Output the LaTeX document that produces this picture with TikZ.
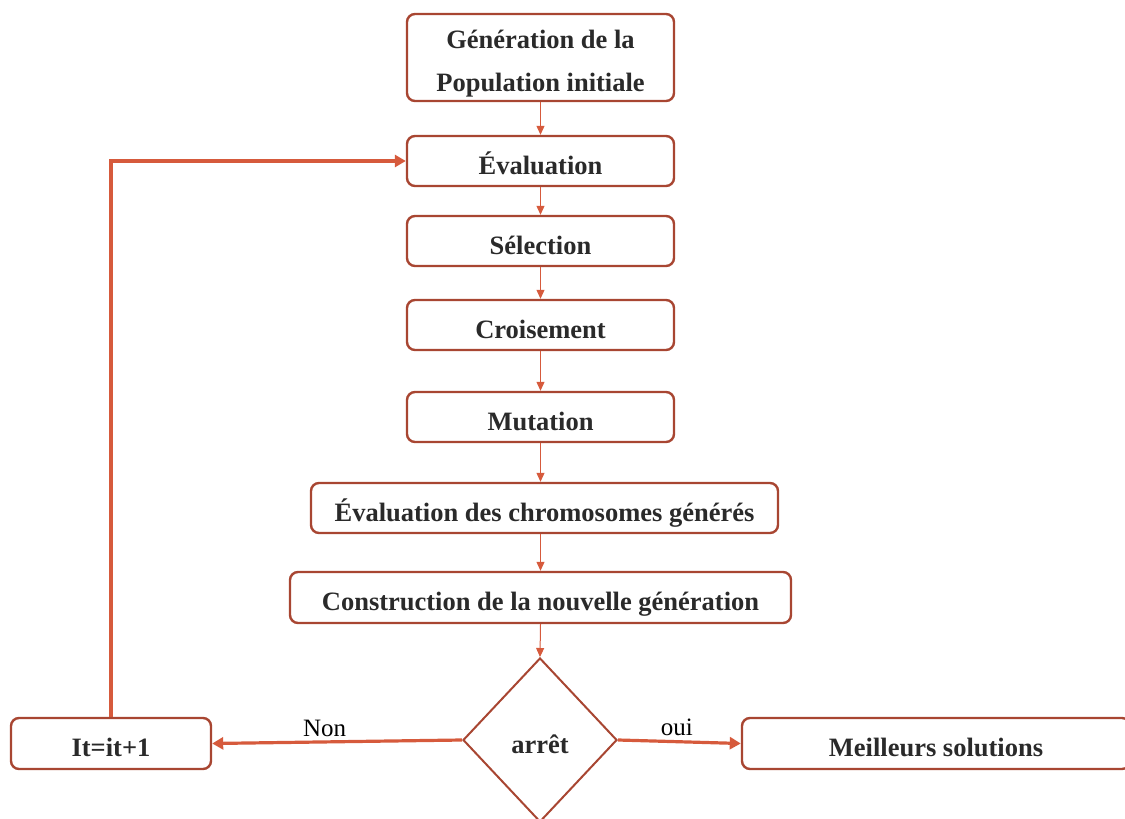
\documentclass[tikz,border=0pt]{standalone}
\usepackage{fontspec}
\setmainfont{Liberation Serif}
\usetikzlibrary{shapes.geometric,arrows.meta}
\definecolor{boxc}{HTML}{A84632}
\definecolor{arrc}{HTML}{D65A3C}
\definecolor{txtc}{HTML}{2A2A2A}
\tikzset{
  stepbox/.style={draw=boxc, line width=2.4pt, rounded corners=8pt, fill=white,
    text=txtc, font=\fontsize{26.5}{43}\selectfont\bfseries, align=center, inner sep=0pt,
    text height=26pt, text depth=0pt},
  thinarr/.style={draw=arrc, line width=1pt, -{Triangle[length=9pt,width=8pt]}},
  thickarr/.style={draw=arrc, line width=3.2pt, -{Triangle[length=11pt,width=12pt]}},
  lbl/.style={font=\fontsize{25}{30}\selectfont, text=black, inner sep=0pt},
}
\begin{document}
\begin{tikzpicture}[x=1pt,y=-1pt]
\useasboundingbox (0,0) rectangle (1125,819);
\clip (0,0) rectangle (1125,819);
\node[stepbox, minimum width=267pt, minimum height=87pt, text height=67pt, text depth=0pt] (gen) at (540.5,57.5) {Génération de la\\Population initiale};
\node[stepbox, minimum width=267pt, minimum height=50pt] (eval) at (540.5,161) {Évaluation};
\node[stepbox, minimum width=267pt, minimum height=50pt] (sel) at (540.5,241) {Sélection};
\node[stepbox, minimum width=267pt, minimum height=50pt] (crois) at (540.5,325) {Croisement};
\node[stepbox, minimum width=267pt, minimum height=50pt] (mut) at (540.5,417) {Mutation};
\node[stepbox, minimum width=467pt, minimum height=50pt] (evalc) at (544.5,508) {Évaluation des chromosomes générés};
\node[stepbox, minimum width=501pt, minimum height=51pt] (cons) at (540.5,597.5) {Construction de la nouvelle génération};
\node[draw=boxc, line width=2pt, diamond, minimum width=154pt, minimum height=164pt, inner sep=0pt,
  text=txtc, font=\fontsize{26.5}{32}\selectfont\bfseries, text height=26pt, text depth=0pt] (stop) at (540,740) {arrêt};
\node[stepbox, minimum width=200pt, minimum height=51pt] (it) at (111,743.5) {It=it+1};
\node[stepbox, minimum width=388pt, minimum height=51pt] (best) at (936,743.5) {Meilleurs solutions};
\draw[thinarr] (gen) -- (eval);
\draw[thinarr] (eval) -- (sel);
\draw[thinarr] (sel) -- (crois);
\draw[thinarr] (crois) -- (mut);
\draw[thinarr] (mut.south) -- (evalc.north -| mut.south);
\draw[thinarr] (evalc.south -| mut.south) -- (cons.north -| mut.south);
\draw[thinarr] (cons.south -| mut.south) -- (stop.north);
\draw[thickarr] (stop.west) -- node[lbl, pos=0.55, above=4pt] {Non} (it.east);
\draw[thickarr] (stop.east) -- node[lbl, pos=0.48, above=4pt] {oui} (best.west);
\draw[thickarr] (it.north) |- (eval.west);
\end{tikzpicture}
\end{document}
